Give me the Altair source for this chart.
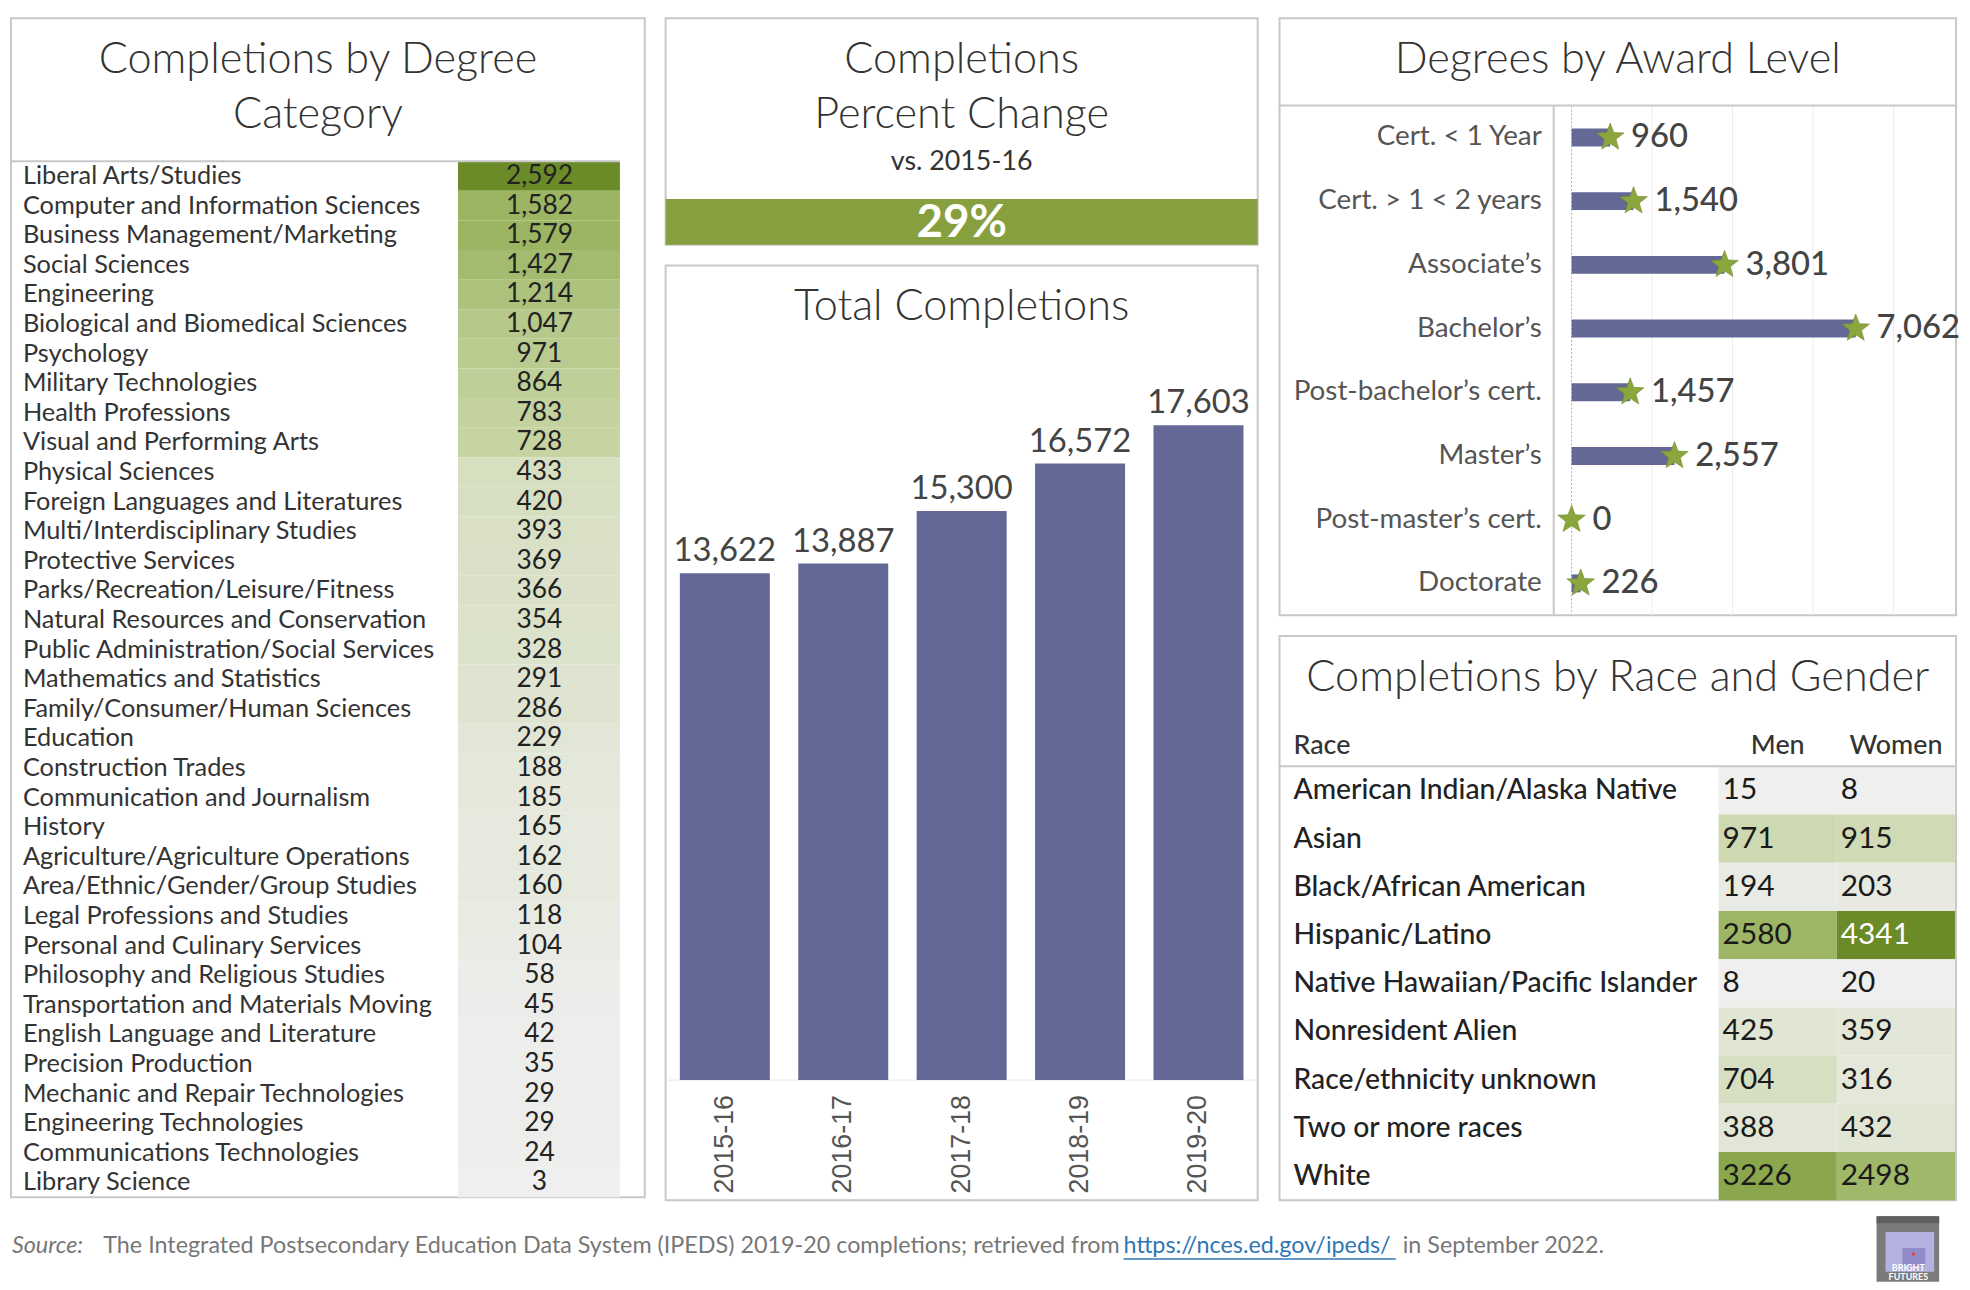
import altair as alt
import pandas as pd

FONT = "Lato"
AXIS_FONT = "Liberation Sans"
BORDER = "#c8c8c8"
BAR = "#636897"
STAR = "#8ba63d"
GREEN_DOMAIN = [0, 0.28, 0.61, 1.0]
GREEN_RANGE = ["#efefef", "#c6d4a2", "#9bb562", "#6a8b27"]

degree_categories = [
    "Liberal Arts/Studies", "Computer and Information Sciences", "Business Management/Marketing",
    "Social Sciences", "Engineering", "Biological and Biomedical Sciences", "Psychology",
    "Military Technologies", "Health Professions", "Visual and Performing Arts", "Physical Sciences",
    "Foreign Languages and Literatures", "Multi/Interdisciplinary Studies", "Protective Services",
    "Parks/Recreation/Leisure/Fitness", "Natural Resources and Conservation",
    "Public Administration/Social Services", "Mathematics and Statistics",
    "Family/Consumer/Human Sciences", "Education", "Construction Trades",
    "Communication and Journalism", "History", "Agriculture/Agriculture Operations",
    "Area/Ethnic/Gender/Group Studies", "Legal Professions and Studies",
    "Personal and Culinary Services", "Philosophy and Religious Studies",
    "Transportation and Materials Moving", "English Language and Literature",
    "Precision Production", "Mechanic and Repair Technologies", "Engineering Technologies",
    "Communications Technologies", "Library Science",
]
degree_counts = [2592, 1582, 1579, 1427, 1214, 1047, 971, 864, 783, 728, 433, 420, 393, 369, 366,
                 354, 328, 291, 286, 229, 188, 185, 165, 162, 160, 118, 104, 58, 45, 42, 35, 29,
                 29, 24, 3]

years = ["2015-16", "2016-17", "2017-18", "2018-19", "2019-20"]
totals = [13622, 13887, 15300, 16572, 17603]

award_levels = ["Cert. < 1 Year", "Cert. > 1 < 2 years", "Associate’s", "Bachelor’s",
                "Post-bachelor’s cert.", "Master’s", "Post-master’s cert.", "Doctorate"]
award_counts = [960, 1540, 3801, 7062, 1457, 2557, 0, 226]
award_grid = [2000, 4000, 6000, 8000]

races = ["American Indian/Alaska Native", "Asian", "Black/African American", "Hispanic/Latino",
         "Native Hawaiian/Pacific Islander", "Nonresident Alien", "Race/ethnicity unknown",
         "Two or more races", "White"]
genders = ["Men", "Women"]
men = [15, 971, 194, 2580, 8, 425, 704, 388, 3226]
women = [8, 915, 203, 4341, 20, 359, 316, 432, 2498]

one = pd.DataFrame({"k": [0]})


def txt(text, x, y, size, color="#333333", weight="normal", align="center", font=FONT,
        style="normal"):
    return alt.Chart(one).mark_text(
        text=text, fontSize=size, color=color, fontWeight=weight, align=align,
        baseline="middle", font=font, fontStyle=style
    ).encode(x=alt.value(x), y=alt.value(y))


def hline(x1, x2, y, color=BORDER, w=2):
    return alt.Chart(one).mark_rule(color=color, strokeWidth=w).encode(
        x=alt.value(x1), x2=alt.value(x2), y=alt.value(y))


def vline(x, y1, y2, color=BORDER, w=2):
    return alt.Chart(one).mark_rule(color=color, strokeWidth=w).encode(
        x=alt.value(x), y=alt.value(y1), y2=alt.value(y2))


def green_scale():
    return alt.Scale(type="linear", domain=GREEN_DOMAIN, range=GREEN_RANGE, interpolate="rgb")


TITLE_SIZE = 43.5
TITLE_W = 300
T1, T2 = 42, 98

# ---------------- Panel A: Completions by Degree Category ----------------
WA, HA = 638, 1187
dfA = pd.DataFrame({"cat": degree_categories, "n": degree_counts})
yA = alt.Y("cat:N", sort=degree_categories,
           scale=alt.Scale(range=[144, HA], paddingInner=0, paddingOuter=0), axis=None)
baseA = alt.Chart(dfA).transform_joinaggregate(maxn="max(n)").transform_calculate(
    frac="datum.n / datum.maxn")
cellsA = baseA.mark_rect().encode(
    x=alt.value(450), x2=alt.value(613), y=yA,
    color=alt.Color("frac:Q", scale=green_scale(), legend=None))
labelsA = baseA.mark_text(align="left", baseline="middle", font=FONT, fontSize=25.5,
                          color="#333333").encode(x=alt.value(12), y=yA, text="cat:N")
valuesA = baseA.mark_text(align="center", baseline="middle", font=FONT, fontSize=26.5,
                          color="#222222").encode(x=alt.value(532), y=yA,
                                                   text=alt.Text("n:Q", format=","))
panelA = alt.layer(
    cellsA, labelsA, valuesA,
    txt("Completions by Degree", 309, T1, TITLE_SIZE, weight=TITLE_W),
    txt("Category", 309, T2, TITLE_SIZE, weight=TITLE_W),
    hline(0, 613, 144),
).properties(width=WA, height=HA)

# ---------------- Panel B: Percent change ----------------
WB, HB = 596, 228
dfT = pd.DataFrame({"year": years, "total": totals})
kpi_base = alt.Chart(dfT).transform_pivot("year", value="total").transform_calculate(
    pct="(datum['2019-20'] - datum['2015-16']) / datum['2015-16']")
kpi_rect = kpi_base.mark_rect(color="#87a03f").encode(
    x=alt.value(0), x2=alt.value(WB), y=alt.value(182), y2=alt.value(HB))
kpi_text = kpi_base.mark_text(color="white", fontSize=46, fontWeight="bold", font=FONT,
                              baseline="middle").encode(
    x=alt.value(WB / 2), y=alt.value(206), text=alt.Text("pct:Q", format=".0%"))
panelB = alt.layer(
    txt("Completions", WB / 2, T1, TITLE_SIZE, weight=TITLE_W),
    txt("Percent Change", WB / 2, T2, TITLE_SIZE, weight=TITLE_W),
    txt("vs. 2015-16", WB / 2, 145, 27, color="#333333"),
    kpi_rect, kpi_text,
).properties(width=WB, height=HB)

# ---------------- Panel C: Total completions ----------------
WC, HC = 596, 941
xC = alt.X("year:N", sort=years,
           scale=alt.Scale(range=[0, WC], paddingInner=0.24, paddingOuter=0.12), axis=None)
yscaleC = alt.Scale(domain=[0, 20000], range=[820, 71])
yC = alt.Y("total:Q", scale=yscaleC, axis=None)
baseC = alt.Chart(dfT)
barsC = baseC.mark_bar(color=BAR).encode(x=xC, y=yC)
valsC = baseC.mark_text(baseline="bottom", dy=-5, fontSize=33, font=FONT,
                        color="#444444").encode(x=xC, y=yC, text=alt.Text("total:Q", format=","))
yearsC = baseC.mark_text(angle=270, align="right", baseline="middle", font=AXIS_FONT,
                         fontSize=27, color="#555555").encode(x=xC, y=alt.value(835), text="year:N")
zeroC = alt.Chart(pd.DataFrame({"total": [0]})).mark_rule(color="#e8e8e8", strokeWidth=1).encode(
    y=yC)
panelC = alt.layer(
    zeroC, barsC, valsC, yearsC,
    txt("Total Completions", WC / 2, T1, TITLE_SIZE, weight=TITLE_W),
).properties(width=WC, height=HC)

# ---------------- Panel D: Degrees by award level ----------------
WD, HD = 681, 601
dfD = pd.DataFrame({"level": award_levels, "n": award_counts})
yD = alt.Y("level:N", sort=award_levels,
           scale=alt.Scale(range=[88, HD], paddingInner=0, paddingOuter=0), axis=None)
xscaleD = alt.Scale(domain=[0, 8000], range=[294, 618])
xD = alt.X("n:Q", scale=xscaleD, axis=None)
gridD = alt.Chart(pd.DataFrame({"n": award_grid})).mark_rule(color="#ececec", strokeWidth=1).encode(
    x=xD, y=alt.value(88), y2=alt.value(HD))
zeroD = alt.Chart(pd.DataFrame({"n": [0]})).mark_rule(
    color="#b0b0b0", strokeWidth=1, strokeDash=[2, 2]).encode(x=xD, y=alt.value(88), y2=alt.value(HD))
baseD = alt.Chart(dfD)
barsD = baseD.mark_bar(height=18, color=BAR).encode(x=xD, y=yD)
STAR_PATH = ("M0,-1L0.247,-0.34L0.951,-0.309L0.4,0.13L0.588,0.809L0,0.42L-0.588,0.809"
             "L-0.4,0.13L-0.951,-0.309L-0.247,-0.34Z")
starsD = baseD.mark_point(shape=STAR_PATH, size=850, filled=True, fill=STAR, stroke="#6f8b2c",
                          strokeWidth=0.6, opacity=1).encode(x=xD, y=yD)
valsD = baseD.mark_text(align="left", baseline="middle", dx=21, fontSize=33, font=FONT,
                        fontWeight=500, color="#444444").encode(
    x=xD, y=yD, text=alt.Text("n:Q", format=","))
labD = baseD.mark_text(align="right", baseline="middle", fontSize=28, font=FONT,
                       color="#555555").encode(x=alt.value(264), y=yD, text="level:N")
panelD = alt.layer(
    gridD, zeroD, barsD, starsD, valsD, labD,
    txt("Degrees by Award Level", WD / 2, T1, TITLE_SIZE, weight=TITLE_W),
    hline(0, WD, 88),
    vline(276, 88, HD),
).properties(width=WD, height=HD)

# ---------------- Panel E: Race and gender ----------------
WE, HE = 681, 568
rows = []
for r, m, w in zip(races, men, women):
    rows.append({"race": r, "gender": "Men", "v": m})
    rows.append({"race": r, "gender": "Women", "v": w})
dfE = pd.DataFrame(rows)
yE = alt.Y("race:N", sort=races,
           scale=alt.Scale(range=[131, HE], paddingInner=0, paddingOuter=0), axis=None)
scaleGE = alt.Scale(domain=genders, range=[442, 680], paddingInner=0, paddingOuter=0)
baseE = alt.Chart(dfE).transform_joinaggregate(maxv="max(v)").transform_calculate(
    frac="datum.v / datum.maxv")
cellsE = baseE.mark_rect().encode(
    x=alt.X("gender:N", scale=scaleGE, axis=None), y=yE,
    color=alt.Color("frac:Q", scale=green_scale(), legend=None))
valsE = baseE.mark_text(align="left", baseline="middle", dx=4, fontSize=30, font=FONT).encode(
    x=alt.X("gender:N", scale=scaleGE, axis=None, bandPosition=0), y=yE,
    text="v:Q",
    color=alt.condition("datum.v > 4000", alt.value("white"), alt.value("#1a1a1a")))
labE = alt.Chart(pd.DataFrame({"race": races})).mark_text(
    align="left", baseline="middle", fontSize=28.5, font=FONT, fontWeight=500,
    color="#222222").encode(x=alt.value(14), y=yE, text="race:N")
headE = alt.Chart(pd.DataFrame({"gender": genders})).mark_text(
    baseline="middle", fontSize=27, font=FONT, fontWeight=500, color="#333333").encode(
    x=alt.X("gender:N", scale=scaleGE, axis=None), y=alt.value(111), text="gender:N")
panelE = alt.layer(
    cellsE, valsE, labE, headE,
    txt("Race", 14, 111, 27, color="#333333", weight=500, align="left"),
    txt("Completions by Race and Gender", WE / 2, T1, TITLE_SIZE, weight=TITLE_W),
    hline(0, WE, 131),
).properties(width=WE, height=HE)

# ---------------- Footer ----------------
WF, HF = 1951, 70
FY = 34
FS = 23.5
link_x0, link_x1 = 1120, 1394


def box(x1, x2, y1, y2, color):
    return alt.Chart(one).mark_rect(color=color).encode(
        x=alt.value(x1), x2=alt.value(x2), y=alt.value(y1), y2=alt.value(y2))


footer = alt.layer(
    txt("Source:", 1, FY, FS, color="#777777", style="italic", align="left"),
    txt("The Integrated Postsecondary Education Data System (IPEDS) 2019-20 completions; retrieved from",
        link_x0 - 4, FY, FS, color="#777777", align="right"),
    txt("https://nces.ed.gov/ipeds/", link_x0, FY, FS, color="#2f76b5", align="left"),
    hline(link_x0, link_x1, FY + 13, color="#2f76b5", w=1.5),
    txt("in September 2022.", link_x1 + 7, FY, FS, color="#777777", align="left"),
    box(1878, 1941, 4, 70, "#7b7b7b"),
    box(1878, 1941, 4, 11, "#5f5f5f"),
    box(1887, 1936, 20, 60, "#b3b1e0"),
    box(1904, 1927, 36, 54, "#8f8cc8"),
    alt.Chart(one).mark_point(filled=True, color="#e04040", size=12, opacity=1).encode(
        x=alt.value(1915), y=alt.value(42)),
    txt("BRIGHT", 1910, 56, 9, color="white", weight="bold"),
    txt("FUTURES", 1910, 65, 9, color="white", weight="bold"),
).properties(width=WF, height=HF, view=alt.ViewBackground(stroke="transparent"))

top = alt.hconcat(
    panelA,
    alt.vconcat(panelB, panelC, spacing=18),
    alt.vconcat(panelD, panelE, spacing=18),
    spacing=18,
)

chart = alt.vconcat(top, footer, spacing=10).properties(
    padding={"left": 1, "top": 5, "right": 0, "bottom": 0},
    background="white",
).configure_view(stroke=BORDER, strokeWidth=2)

chart.save("out.html", embed_options={"renderer": "svg", "actions": False})
